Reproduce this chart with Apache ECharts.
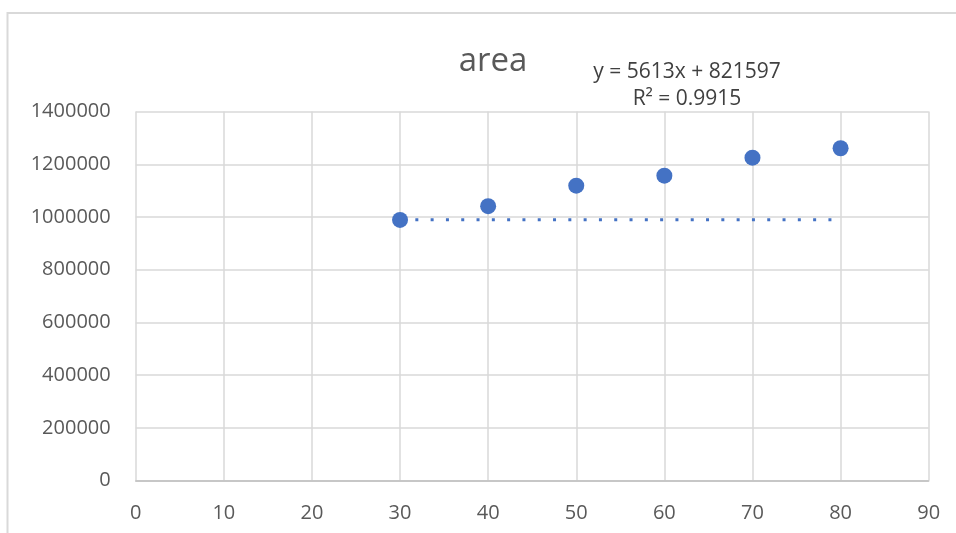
<!DOCTYPE html>
<html>
<head>
<meta charset="utf-8">
<title>area</title>
<script src="https://cdn.jsdelivr.net/npm/echarts@6/dist/echarts.min.js"></script>
<style>
  html, body { margin: 0; padding: 0; background: #ffffff; }
  #chart { width: 956px; height: 533px; }
</style>
</head>
<body>
<div id="chart"></div>
<script>
// Measured points: x position and area
var xValues = [30, 40, 50, 60, 70, 80];
var areaValues = [989000, 1041000, 1119000, 1157000, 1225000, 1261000];

// Dotted trend line endpoints as drawn
var trendX = [30, 80];
var trendY = [990000, 990000];

// Trend line annotation
var equationLines = ['y = 5613x + 821597', 'R\u00B2 = 0.9915'];
var chartTitle = 'area';

var points = xValues.map(function (x, i) { return [x, areaValues[i]]; });
var trendPoints = trendX.map(function (x, i) { return [x, trendY[i]]; });

var tickFont = '"Open Sans", "Noto Sans", sans-serif';
var gridColor = '#d9d9d9';
var markColor = '#4472C4';

var chart = echarts.init(document.getElementById('chart'), null, { renderer: 'canvas' });

chart.setOption({
  backgroundColor: '#ffffff',
  animation: false,
  title: {
    text: chartTitle,
    left: 488,
    top: 40,
    textAlign: 'center',
    textStyle: {
      fontFamily: tickFont,
      fontSize: 33,
      fontWeight: 'normal',
      color: '#595959'
    }
  },
  graphic: [
    {
      type: 'rect',
      shape: { x: 7.5, y: 13, width: 1000, height: 600 },
      style: { fill: 'none', stroke: gridColor, lineWidth: 2 },
      silent: true,
      z: -10
    },
    {
      type: 'text',
      x: 687,
      y: 86,
      style: {
        text: equationLines.join('\n'),
        align: 'center',
        verticalAlign: 'middle',
        fontFamily: tickFont,
        fontSize: 21,
        lineHeight: 27,
        fill: '#404040'
      },
      silent: true
    }
  ],
  grid: {
    left: 135.7,
    right: 27.3,
    top: 111.6,
    bottom: 52.5,
    containLabel: false
  },
  xAxis: {
    type: 'value',
    min: 0,
    max: 90,
    interval: 10,
    axisLine: { show: true, onZero: false, lineStyle: { color: '#bfbfbf', width: 1.5 } },
    axisTick: { show: false },
    axisLabel: {
      margin: 23,
      fontFamily: tickFont,
      fontSize: 20,
      color: '#595959'
    },
    splitLine: { show: true, lineStyle: { color: gridColor, width: 1.5 } }
  },
  yAxis: {
    type: 'value',
    min: 0,
    max: 1400000,
    interval: 200000,
    axisLine: { show: false },
    axisTick: { show: false },
    axisLabel: {
      margin: 25,
      fontFamily: tickFont,
      fontSize: 20,
      color: '#595959',
      formatter: function (v) { return String(v); }
    },
    splitLine: { show: true, lineStyle: { color: gridColor, width: 1.5 } }
  },
  series: [
    {
      name: 'trend',
      type: 'line',
      data: trendPoints,
      showSymbol: false,
      symbol: 'none',
      lineStyle: { color: markColor, width: 3, type: [3, 12.3], cap: 'butt' },
      z: 2,
      silent: true
    },
    {
      name: 'area',
      type: 'scatter',
      data: points,
      symbol: 'circle',
      symbolSize: 16,
      itemStyle: { color: markColor, opacity: 1 },
      z: 3
    }
  ]
});
</script>
</body>
</html>
